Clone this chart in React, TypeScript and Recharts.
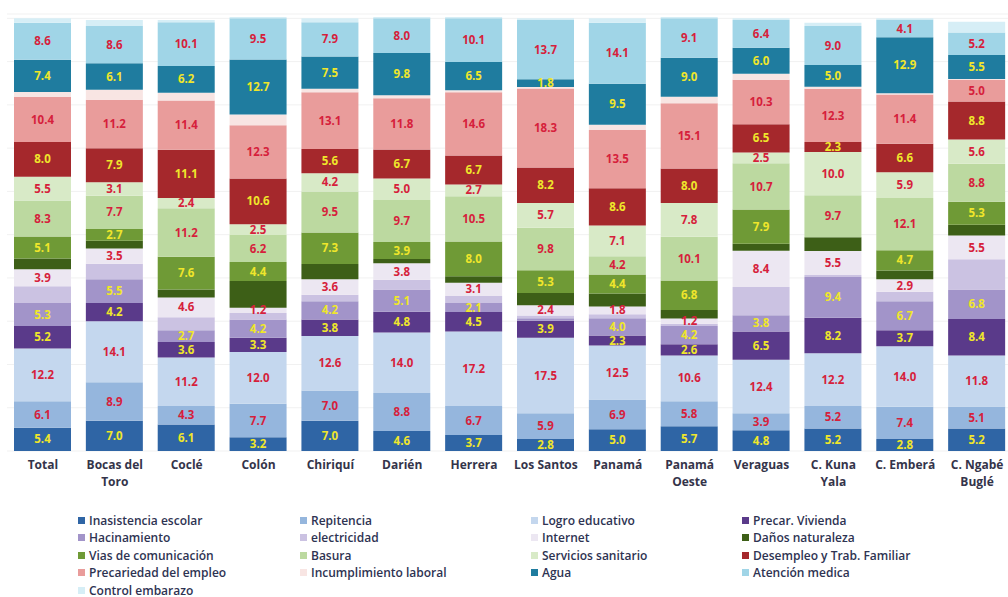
import React from 'react';
import { BarChart, Bar, XAxis, YAxis, CartesianGrid, LabelList } from 'recharts';

// Categories (provincias / comarcas) and their two-line tick labels
const categories = [
  'Total', 'Bocas del Toro', 'Coclé', 'Colón', 'Chiriquí', 'Darién', 'Herrera',
  'Los Santos', 'Panamá', 'Panamá Oeste', 'Veraguas', 'C. Kuna Yala', 'C. Emberá', 'C. Ngabé Buglé',
];
const tickLines = [
  ['Total'], ['Bocas del', 'Toro'], ['Coclé'], ['Colón'], ['Chiriquí'], ['Darién'], ['Herrera'],
  ['Los Santos'], ['Panamá'], ['Panamá', 'Oeste'], ['Veraguas'], ['C. Kuna', 'Yala'], ['C. Emberá'], ['C. Ngabé', 'Buglé'],
];

// Values per indicator, same order as categories
const inasistencia = [5.4, 7.0, 6.1, 3.2, 7.0, 4.6, 3.7, 2.8, 5.0, 5.7, 4.8, 5.2, 2.8, 5.2];
const repitencia = [6.1, 8.9, 4.3, 7.7, 7.0, 8.8, 6.7, 5.9, 6.9, 5.8, 3.9, 5.2, 7.4, 5.1];
const logro = [12.2, 14.1, 11.2, 12.0, 12.6, 14.0, 17.2, 17.5, 12.5, 10.6, 12.4, 12.2, 14.0, 11.8];
const precarVivienda = [5.2, 4.2, 3.6, 3.3, 3.8, 4.8, 4.5, 3.9, 2.3, 2.6, 6.5, 8.2, 3.7, 8.4];
const hacinamiento = [5.3, 5.5, 2.7, 4.2, 4.2, 5.1, 2.1, 0.6, 4.0, 4.2, 3.8, 9.4, 6.7, 6.8];
const electricidad = [3.9, 3.6, 3.0, 1.5, 1.5, 2.3, 1.6, 0.6, 0.9, 0.5, 6.5, 0.5, 2.2, 7.0];
const internet = [3.9, 3.5, 4.6, 1.2, 3.6, 3.8, 3.1, 2.4, 1.8, 1.2, 8.4, 5.5, 2.9, 5.5];
const danos = [2.5, 1.8, 1.8, 6.2, 3.5, 1.0, 1.5, 2.8, 3.0, 2.0, 1.6, 3.2, 2.0, 2.5];
const vias = [5.1, 2.7, 7.6, 4.4, 7.3, 3.9, 8.0, 5.3, 4.4, 6.8, 7.9, 0.0, 4.7, 5.3];
const basura = [8.3, 7.7, 11.2, 6.2, 9.5, 9.7, 10.5, 9.8, 4.2, 10.1, 10.7, 9.7, 12.1, 8.8];
const servicios = [5.5, 3.1, 2.4, 2.5, 4.2, 5.0, 2.7, 5.7, 7.1, 7.8, 2.5, 10.0, 5.9, 5.6];
const desempleo = [8.0, 7.9, 11.1, 10.6, 5.6, 6.7, 6.7, 8.2, 8.6, 8.0, 6.5, 2.3, 6.6, 8.8];
const precariedad = [10.4, 11.2, 11.4, 12.3, 13.1, 11.8, 14.6, 18.3, 13.5, 15.1, 10.3, 12.3, 11.4, 5.0];
const incumplimiento = [1.2, 2.3, 1.8, 2.5, 0.8, 0.7, 0.5, 0.3, 1.2, 1.5, 1.4, 0.5, 0.3, 0.2];
const agua = [7.4, 6.1, 6.2, 12.7, 7.5, 9.8, 6.5, 1.8, 9.5, 9.0, 6.0, 5.0, 12.9, 5.5];
const atencion = [8.6, 8.6, 10.1, 9.5, 7.9, 8.0, 10.1, 13.7, 14.1, 9.1, 6.4, 9.0, 4.1, 5.2];
const control = [1.0, 1.4, 0.5, 0.3, 0.9, 0.3, 0.3, 0.4, 1.0, 0.3, 0.4, 0.8, 0.3, 2.5];

const RED = '#d61f3c';
const YELLOW = '#efe62b';

// stacking order bottom -> top, same as the legend order
const series = [
  { key: 'inasistencia', name: 'Inasistencia escolar', values: inasistencia, color: '#2f65a5', label: YELLOW },
  { key: 'repitencia', name: 'Repitencia', values: repitencia, color: '#95b6dd', label: RED },
  { key: 'logro', name: 'Logro educativo', values: logro, color: '#c4d7ee', label: RED },
  { key: 'precarVivienda', name: 'Precar. Vivienda', values: precarVivienda, color: '#5a3a8a', label: YELLOW },
  { key: 'hacinamiento', name: 'Hacinamiento', values: hacinamiento, color: '#a294c9', label: YELLOW },
  { key: 'electricidad', name: 'electricidad', values: electricidad, color: '#cbc2e2', label: null },
  { key: 'internet', name: 'Internet', values: internet, color: '#ece7f2', label: RED },
  { key: 'danos', name: 'Daños naturaleza', values: danos, color: '#3d5f17', label: null },
  { key: 'vias', name: 'Vias de comunicación', values: vias, color: '#6f9a36', label: YELLOW },
  { key: 'basura', name: 'Basura', values: basura, color: '#bcd9a0', label: RED },
  { key: 'servicios', name: 'Servicios sanitario', values: servicios, color: '#d8eac7', label: RED },
  { key: 'desempleo', name: 'Desempleo y Trab. Familiar', values: desempleo, color: '#a5282c', label: YELLOW },
  { key: 'precariedad', name: 'Precariedad del empleo', values: precariedad, color: '#e99c9b', label: RED },
  { key: 'incumplimiento', name: 'Incumplimiento laboral', values: incumplimiento, color: '#f8e5e3', label: null },
  { key: 'agua', name: 'Agua', values: agua, color: '#1f7c9f', label: YELLOW },
  { key: 'atencion', name: 'Atención medica', values: atencion, color: '#a0d5e7', label: RED },
  { key: 'control', name: 'Control embarazo', values: control, color: '#d6eef6', label: null },
];

const data = categories.map((name, i) => {
  const row: Record<string, any> = { name };
  series.forEach((s) => {
    row[s.key] = s.values[i];
  });
  return row;
});

const CategoryTick = (props: any) => {
  const { x, y, index } = props;
  const lines = tickLines[index] || [];
  return (
    <text x={x} y={y} textAnchor="middle" fill="#34344a" fontSize={12} fontWeight={700}>
      {lines.map((l, i) => (
        <tspan key={i} x={x} dy={i === 0 ? 10 : 17}>
          {l}
        </tspan>
      ))}
    </text>
  );
};

const legendCols = [78, 300, 531, 742];
const legendRows = [520, 537.5, 555, 572.5, 590];

const App = () => {
  return (
    <div style={{ position: 'absolute', left: 0, top: 0, width: 1008, height: 597, overflow: 'hidden', background: '#fff', fontFamily: '"Open Sans", sans-serif' }}>
      <BarChart
        width={1013}
        height={500}
        data={data}
        margin={{ top: 14, right: 0, left: 7, bottom: 4 }}
        barSize={57}
        style={{ fontFamily: '"Open Sans", sans-serif' }}
      >
        <CartesianGrid vertical={false} stroke="#f1f1f1" />
        <XAxis dataKey="name" height={45} tickLine={false} axisLine={false} interval={0} tick={<CategoryTick />} />
        <YAxis hide domain={[0, 101]} ticks={[0, 10, 20, 30, 40, 50, 60, 70, 80, 90, 100]} />
        {series.map((s) => (
          <Bar key={s.key} dataKey={s.key} name={s.name} stackId="a" fill={s.color} isAnimationActive={false}>
            {s.label && (
              <LabelList
                dataKey={s.key}
                position="center"
                fill={s.label}
                fontSize={11.5}
                fontWeight={700}
                formatter={(v: any) => (v > 0 && v < 1 ? '' : Number(v).toFixed(1))}
              />
            )}
          </Bar>
        ))}
      </BarChart>
      {series.map((s, i) => (
        <div
          key={s.key}
          style={{
            position: 'absolute',
            left: legendCols[i % 4],
            top: legendRows[Math.floor(i / 4)] - 9,
            height: 18,
            display: 'flex',
            alignItems: 'center',
            fontSize: 12,
            fontWeight: 600,
            color: '#2e3352',
            whiteSpace: 'nowrap',
          }}
        >
          <span style={{ display: 'inline-block', width: 7, height: 7, background: s.color, marginRight: 4 }} />
          {s.name}
        </div>
      ))}
    </div>
  );
};

export default App;
